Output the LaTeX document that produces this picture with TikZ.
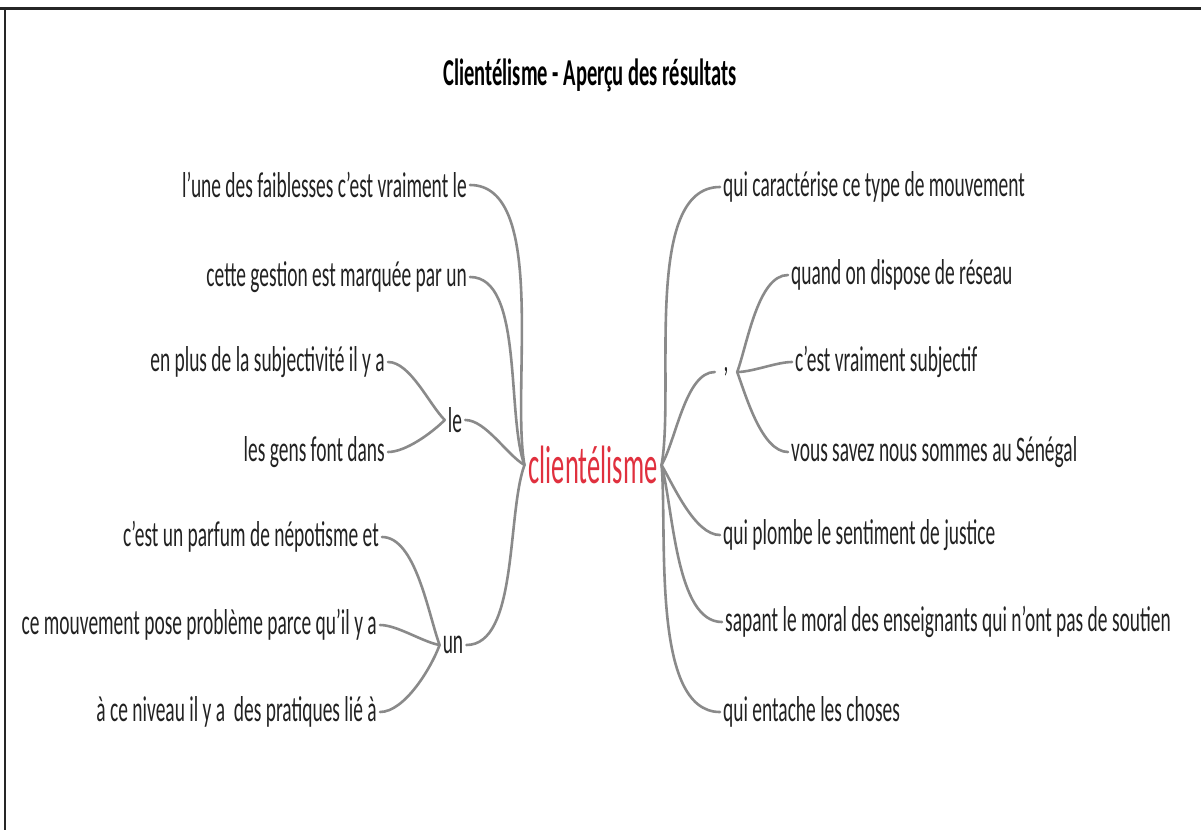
\documentclass[tikz,border=0pt]{standalone}
\usepackage{fontspec}
\setmainfont{Carlito}[FakeStretch=0.54]
\newfontfamily\rootfont{Carlito}[FakeStretch=0.49]
\usetikzlibrary{positioning}
\definecolor{mapRed}{HTML}{E0303E}
\definecolor{mapGrey}{HTML}{8A8A8A}
\definecolor{mapText}{HTML}{222222}

\begin{document}
\begin{tikzpicture}[x=1pt,y=1pt,
    leaf/.style={inner sep=3pt, text=mapText, font=\fontsize{36}{38}\selectfont},
    root/.style={inner sep=4pt, text=mapRed, font=\rootfont\fontsize{54}{56}\selectfont},
    link/.style={draw=mapGrey, line width=2.6pt, line cap=round, looseness=0.7}]
  \useasboundingbox (0,0) rectangle (1201,-830);
  % frame
  \draw[line width=3pt, black!85] (0,-8) -- (1201,-8);
  \draw[line width=1.4pt, black!85] (5,-8) -- (5,-830);

  % title
  \node[font=\fontsize{38}{40}\selectfont\bfseries, text=black] (title) at (590,-75) {Clientélisme - Aperçu des résultats};

  % centre
  \node[root] (cli) at (593,-465) {clientélisme};

  % left side
  \node[leaf, anchor=east] (faib) at (470,-185) {l'une des faiblesses c'est vraiment le};
  \node[leaf, anchor=east] (gest) at (470,-277) {cette gestion est marquée par un};
  \node[leaf] (le) at (455,-420) {le};
  \node[leaf, anchor=east] (subj) at (388,-362) {en plus de la subjectivité il y a};
  \node[leaf, anchor=east] (gens) at (388,-452) {les gens font dans};
  \node[leaf] (un) at (453,-645) {un};
  \node[leaf, anchor=east] (parf) at (382,-537) {c'est un parfum de népotisme et};
  \node[leaf, anchor=east] (mouv) at (380,-625) {ce mouvement pose problème parce qu'il y a};
  \node[leaf, anchor=east] (nivo) at (380,-712) {à ce niveau il y a\ \ des pratiques lié à};

  % right side
  \node[leaf, anchor=west] (cara) at (720,-187) {qui caractérise ce type de mouvement};
  \node[leaf, minimum width=22pt, inner sep=0pt] (virg) at (726,-372) {,};
  \node[leaf, anchor=west] (resx) at (788,-275) {quand on dispose de réseau};
  \node[leaf, anchor=west] (vrai) at (792,-362) {c'est vraiment subjectif};
  \node[leaf, anchor=west] (sene) at (788,-452) {vous savez nous sommes au Sénégal};
  \node[leaf, anchor=west] (plom) at (720,-535) {qui plombe le sentiment de justice};
  \node[leaf, anchor=west] (mora) at (722,-622) {sapant le moral des enseignants qui n'ont pas de soutien};
  \node[leaf, anchor=west] (tach) at (720,-712) {qui entache les choses};

  % connectors
  \draw[link] (cli.west) to[out=100, in=0] (faib.east);
  \draw[link] (cli.west) to[out=110, in=0] (gest.east);
  \draw[link] (cli.west) to[out=150, in=0] (le.east);
  \draw[link] (cli.west) to[out=250, in=0] (un.east);
  \draw[link] (le.west) to[out=135, in=0] (subj.east);
  \draw[link] (le.west) to[out=225, in=0] (gens.east);
  \draw[link] (un.west) to[out=110, in=0] (parf.east);
  \draw[link] (un.west) to[out=170, in=0] (mouv.east);
  \draw[link] (un.west) to[out=250, in=0] (nivo.east);
  \draw[link] (cli.east) to[out=80, in=180] (cara.west);
  \draw[link] (cli.east) to[out=60, in=180] (virg.west);
  \draw[link] (cli.east) to[out=-60, in=180] (plom.west);
  \draw[link] (cli.east) to[out=-75, in=180] (mora.west);
  \draw[link] (cli.east) to[out=-85, in=180] (tach.west);
  \draw[link] (virg.east) to[out=70, in=180] (resx.west);
  \draw[link] (virg.east) to[out=0, in=180] (vrai.west);
  \draw[link] (virg.east) to[out=-70, in=180] (sene.west);
\end{tikzpicture}
\end{document}
